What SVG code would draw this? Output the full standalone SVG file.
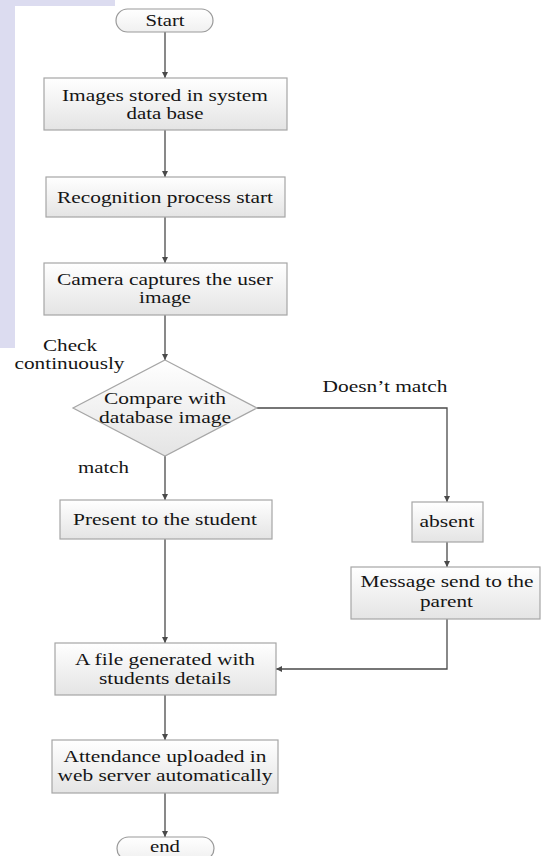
<svg xmlns="http://www.w3.org/2000/svg" width="541" height="856" viewBox="0 0 541 856">
<defs>
<linearGradient id="boxFill" x1="0" y1="0" x2="0" y2="1">
<stop offset="0" stop-color="#ffffff"/>
<stop offset="1" stop-color="#e4e4e4"/>
</linearGradient>
<linearGradient id="termFill" x1="0" y1="0" x2="0" y2="1">
<stop offset="0" stop-color="#ffffff"/>
<stop offset="1" stop-color="#f0f0f0"/>
</linearGradient>
<marker id="arrow" markerUnits="userSpaceOnUse" markerWidth="8" markerHeight="8" refX="6" refY="3" orient="auto">
<path d="M0,0 L6,3 L0,6 Z" fill="#4a4a4a"/>
</marker>
</defs>
<style>
.box{fill:url(#boxFill);stroke:#a6a6a6;stroke-width:1.2}
.term{fill:url(#termFill);stroke:#9a9a9a;stroke-width:1.2}
.conn{fill:none;stroke:#4a4a4a;stroke-width:1.3;marker-end:url(#arrow)}
.line{fill:none;stroke:#4a4a4a;stroke-width:1.3}
text{font-family:"Liberation Serif","Times New Roman",serif;font-size:17px;fill:#151515;text-anchor:middle}
</style>
<rect x="0" y="0" width="541" height="856" fill="#ffffff"/>
<g id="watermark">
<rect x="0" y="0" width="115" height="6" fill="#dcdcf0"/>
<rect x="0" y="0" width="15" height="348" fill="#dcdcf0"/>
</g>
<g id="connectors">
<path class="conn" d="M165,32 L165,78"/>
<path class="conn" d="M165,130 L165,177"/>
<path class="conn" d="M165,217 L165,263"/>
<path class="conn" d="M165,315 L165,360"/>
<path class="conn" d="M257,408 L447,408 L447,502"/>
<path class="conn" d="M165,456 L165,500"/>
<path class="conn" d="M447,542 L447,567"/>
<path class="conn" d="M165,539 L165,643"/>
<path class="conn" d="M447,619 L447,669 L276,669"/>
<path class="conn" d="M165,695 L165,740"/>
<path class="conn" d="M165,793 L165,837"/>
</g>
<g id="start">
<rect class="term" x="116" y="9" width="97" height="23" rx="11.5"/>
<text x="165" y="26" textLength="39" lengthAdjust="spacingAndGlyphs">Start</text>
</g>
<g id="images-stored">
<rect class="box" x="44" y="78" width="243" height="52"/>
<text x="165" y="101" textLength="206" lengthAdjust="spacingAndGlyphs">Images stored in system</text>
<text x="165" y="119" textLength="77" lengthAdjust="spacingAndGlyphs">data base</text>
</g>
<g id="recognition">
<rect class="box" x="46" y="177" width="239" height="40"/>
<text x="165" y="203" textLength="216" lengthAdjust="spacingAndGlyphs">Recognition process start</text>
</g>
<g id="camera">
<rect class="box" x="44" y="263" width="243" height="52"/>
<text x="165" y="285" textLength="216" lengthAdjust="spacingAndGlyphs">Camera captures the user</text>
<text x="165" y="303" textLength="52" lengthAdjust="spacingAndGlyphs">image</text>
</g>
<g id="check-label">
<text x="70" y="350.5" textLength="54" lengthAdjust="spacingAndGlyphs">Check</text>
<text x="69.5" y="369" textLength="110" lengthAdjust="spacingAndGlyphs">continuously</text>
</g>
<g id="compare">
<polygon class="box" points="165,360 257,408 165,456 73,408"/>
<text x="165" y="404" textLength="122" lengthAdjust="spacingAndGlyphs">Compare with</text>
<text x="165" y="422.5" textLength="132" lengthAdjust="spacingAndGlyphs">database image</text>
</g>
<g id="labels">
<text x="385" y="392" textLength="125" lengthAdjust="spacingAndGlyphs">Doesn’t match</text>
<text x="103.5" y="473" textLength="51" lengthAdjust="spacingAndGlyphs">match</text>
</g>
<g id="present">
<rect class="box" x="60" y="500" width="212" height="39"/>
<text x="165" y="525" textLength="184" lengthAdjust="spacingAndGlyphs">Present to the student</text>
</g>
<g id="absent">
<rect class="box" x="412" y="502" width="71" height="40"/>
<text x="447" y="527" textLength="55" lengthAdjust="spacingAndGlyphs">absent</text>
</g>
<g id="message">
<rect class="box" x="351" y="567" width="189" height="52"/>
<text x="447" y="587" textLength="173" lengthAdjust="spacingAndGlyphs">Message send to the</text>
<text x="446.5" y="607" textLength="53" lengthAdjust="spacingAndGlyphs">parent</text>
</g>
<g id="file">
<rect class="box" x="55" y="643" width="221" height="52"/>
<text x="165" y="665" textLength="180" lengthAdjust="spacingAndGlyphs">A file generated with</text>
<text x="165" y="684" textLength="132" lengthAdjust="spacingAndGlyphs">students details</text>
</g>
<g id="attendance">
<rect class="box" x="52" y="740" width="226" height="53"/>
<text x="165" y="762" textLength="203" lengthAdjust="spacingAndGlyphs">Attendance uploaded in</text>
<text x="165" y="781" textLength="215" lengthAdjust="spacingAndGlyphs">web server automatically</text>
</g>
<g id="end">
<rect class="term" x="117" y="837" width="97" height="23" rx="11.5"/>
<text x="165" y="852" textLength="30" lengthAdjust="spacingAndGlyphs">end</text>
</g>
</svg>
